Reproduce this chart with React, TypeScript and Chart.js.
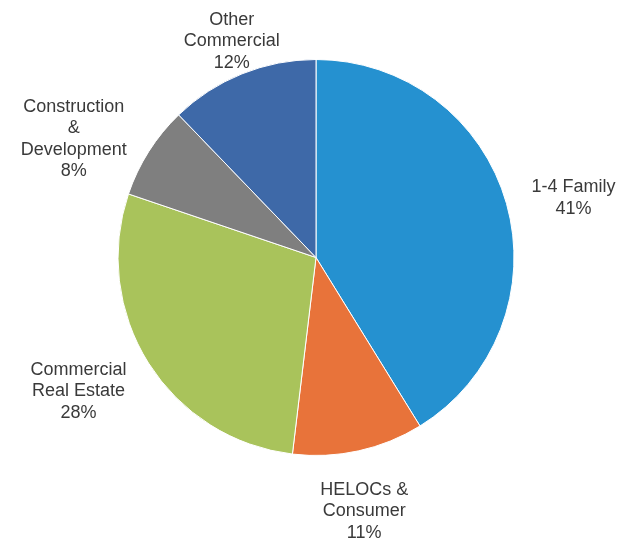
import React, { useEffect, useRef } from "react";
import { Chart, registerables } from "chart.js";

Chart.register(...registerables);

// ---- data ----
const categoryLines: string[][] = [
  ["1-4 Family"],
  ["HELOCs &", "Consumer"],
  ["Commercial", "Real Estate"],
  ["Construction", "&", "Development"],
  ["Other", "Commercial"],
];
const shares: number[] = [41.2, 10.7, 28.3, 7.6, 12.2];
const sliceColors: string[] = ["#2591D0", "#E8733A", "#A9C35B", "#7F7F7F", "#3E69A8"];

// ---- style ----
const FONT_SIZE = 18;
const LINE_H = 21.5;
const TEXT_COLOR = "#3a3a3a";
const GAP = 26;
const TOP_MIN = 12;
const BOTTOM_MAX = 539;

const clamp = (v: number, a: number, b: number) => Math.max(a, Math.min(b, v));

const outsideLabels = {
  id: "outsideLabels",
  afterDatasetsDraw(chart: any) {
    const ctx: CanvasRenderingContext2D = chart.ctx;
    const meta = chart.getDatasetMeta(0);
    const total = shares.reduce((s, v) => s + v, 0);
    ctx.save();
    ctx.font = `${FONT_SIZE}px "Liberation Sans", Arial, sans-serif`;
    ctx.fillStyle = TEXT_COLOR;
    ctx.textAlign = "center";
    ctx.textBaseline = "alphabetic";
    const capH = FONT_SIZE * 0.716;
    meta.data.forEach((arc: any, i: number) => {
      const p = arc.getProps(["x", "y", "startAngle", "endAngle", "outerRadius"], true);
      const mid = (p.startAngle + p.endAngle) / 2;
      const dx = Math.cos(mid);
      const dy = Math.sin(mid);
      const pct = Math.round((shares[i] / total) * 100) + "%";
      const lines = [...categoryLines[i], pct];
      const w = Math.max(...lines.map((l) => ctx.measureText(l).width));
      const h = (lines.length - 1) * LINE_H + capH;
      const px = p.x + (p.outerRadius + GAP) * dx;
      const py = p.y + (p.outerRadius + GAP) * dy;
      const fx = clamp((Math.abs(dx) - 0.3) / 0.5, 0, 1);
      const fy = dy > 0
        ? clamp((dy - 0.3) / 0.5, 0, 1.2)
        : clamp((-dy - 0.55) / 0.4, 0, 1);
      let cx = px + Math.sign(dx) * fx * (w / 2);
      let cy = py + Math.sign(dy) * fy * (h / 2);
      const top = cy - h / 2;
      if (top < TOP_MIN && dy < 0) {
        const t = (TOP_MIN - top) / -dy;
        cx -= dx * t;
        cy -= dy * t;
      }
      const bottom = cy + h / 2;
      if (bottom > BOTTOM_MAX && dy > 0) {
        const t = (bottom - BOTTOM_MAX) / dy;
        cx -= dx * t;
        cy -= dy * t;
      }
      lines.forEach((line, j) => {
        ctx.fillText(line, cx, cy - h / 2 + capH + j * LINE_H);
      });
    });
    ctx.restore();
  },
};

export default function App() {
  const canvasRef = useRef<HTMLCanvasElement | null>(null);

  useEffect(() => {
    if (!canvasRef.current) return;
    const chart = new Chart(canvasRef.current, {
      type: "pie",
      data: {
        labels: categoryLines.map((l) => l.join(" ")),
        datasets: [
          {
            data: shares,
            backgroundColor: sliceColors,
            borderColor: "#ffffff",
            borderWidth: 1,
          },
        ],
      },
      options: {
        responsive: false,
        animation: false,
        events: [],
        layout: { padding: { left: 117, right: 115, top: 59, bottom: 86 } },
        plugins: {
          legend: { display: false },
          tooltip: { enabled: false },
          title: { display: false },
        },
      },
      plugins: [outsideLabels],
    });
    return () => chart.destroy();
  }, []);

  return (
    <div style={{ position: "absolute", left: 0, top: 0, width: 630, height: 542, background: "#ffffff" }}>
      <canvas ref={canvasRef} width={630} height={542} style={{ display: "block" }} />
    </div>
  );
}
